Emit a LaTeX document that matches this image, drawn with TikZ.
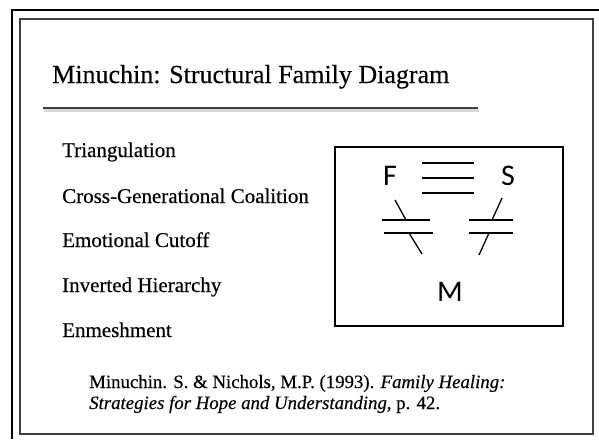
\documentclass[tikz,border=0pt]{standalone}
\usepackage{fontspec}
\setmainfont{Liberation Serif}[FakeBold=0.35]
\newfontfamily\boxfont{Carlito}
\begin{document}
\begin{tikzpicture}[x=1pt,y=-1pt,
  frameline/.style={line width=2pt,black},
  innerframe/.style={line width=1.4pt,black!75},
  slashline/.style={line width=1.3pt,black,line cap=butt},
  item/.style={anchor=base west,inner sep=0pt,font=\fontsize{21}{24}\selectfont},
  cite/.style={anchor=base west,inner sep=0pt,font=\fontsize{18.8}{21}\selectfont},
  boxlabel/.style={anchor=center,inner sep=0pt,font=\boxfont\fontsize{30}{33}\selectfont}]
\useasboundingbox (0,0) rectangle (599,439);
\fill[white] (0,0) rectangle (599,439);
% frames
\draw[frameline] (12,439) -- (12,10) -- (599,10);
\draw[innerframe] (20,19) rectangle (593,434);
% title
\node[anchor=base west,inner sep=0pt,font=\fontsize{26}{29}\selectfont] (title) at (52,83) {Minuchin: Structural Family Diagram};
\draw[line width=3pt,black!15] (44,110.5) -- (479,110.5);
\draw[line width=1.6pt,black!75] (43,108) -- (478,108);
% items
\node[item] (i1) at (62,157) {Triangulation};
\node[item] (i2) at (62,203) {Cross-Generational Coalition};
\node[item] (i3) at (62,247) {Emotional Cutoff};
\node[item] (i4) at (62,292) {Inverted Hierarchy};
\node[item] (i5) at (62,337) {Enmeshment};
% citation
\node[cite] (c1) at (89,388) {Minuchin. S. \& Nichols, M.P. (1993). \textit{Family Healing:}};
\node[cite] (c2) at (89,409) {\textit{Strategies for Hope and Understanding}, p. 42.};
% box
\draw[frameline] (335,147) rectangle (563,326);
\node[boxlabel] (F) at (390,176) {F};
\node[boxlabel] (S) at (508,176) {S};
\node[boxlabel] (M) at (450,292) {M};
\draw[slashline] (422,163) -- (474,163);
\draw[slashline] (422,178) -- (474,178);
\draw[slashline] (422,193) -- (474,193);
% left pair
\draw[slashline] (382,220) -- (430,220);
\draw[slashline] (395,200) -- (406,220);
\draw[slashline] (384,233) -- (433,233);
\draw[slashline] (409,233) -- (422,254);
% right pair
\draw[slashline] (469,220) -- (513,220);
\draw[slashline] (502,198) -- (492,220);
\draw[slashline] (469,233) -- (513,233);
\draw[slashline] (489,233) -- (479,255);
\end{tikzpicture}
\end{document}
